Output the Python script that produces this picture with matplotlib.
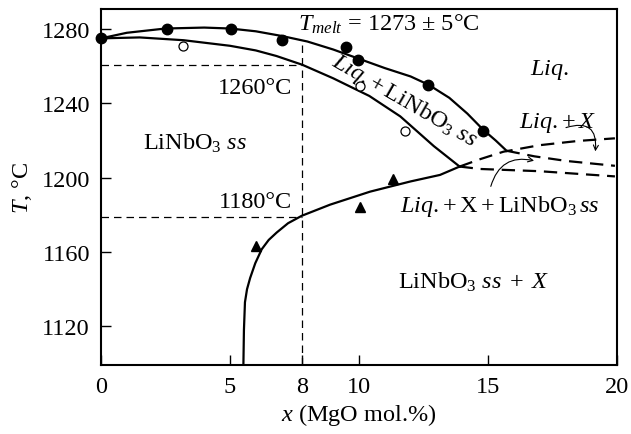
# LiNbO3 - MgO phase diagram
import matplotlib
matplotlib.use('Agg')
import matplotlib.pyplot as plt
from matplotlib.patches import FancyArrowPatch

# Get data
# liquidus
liq_x = [0, 1, 2.5, 4, 5, 6, 7, 8, 9, 10, 11, 12, 12.7, 13.5, 14.2, 14.8, 15.3, 15.72]
liq_T = [1275, 1278, 1280.3, 1280.8, 1280.3, 1278.8, 1276.3, 1273.3, 1269, 1264, 1259, 1254.5, 1250, 1243, 1234.5, 1226, 1220, 1214.5]
# solidus
sol_x = [0, 1.5, 3.2, 5.0, 6.0, 6.8, 7.8, 9.0, 10.4, 11.6, 12.9, 13.9]
sol_T = [1275, 1275.5, 1274, 1271, 1268.5, 1265.5, 1260.8, 1253.5, 1244, 1233, 1217, 1206]
# solvus
solv_x = [5.52, 5.54, 5.58, 5.66, 5.78, 5.98, 6.23, 6.5, 6.81, 7.25, 7.78, 8.88, 10.43, 12.0, 13.14, 13.9]
solv_T = [1100, 1118, 1133, 1140, 1146, 1154, 1161.5, 1166.5, 1170.5, 1175.5, 1179.5, 1185.5, 1192.5, 1198, 1201.5, 1206]
# dashed boundaries
d1_x = [13.9, 14.7, 15.6, 17.0, 18.5, 19.92]
d1_T = [1206, 1210, 1214, 1217.5, 1219.8, 1221.2]
d2_x = [15.72, 16.8, 18.05, 19.92]
d2_T = [1214.5, 1211.5, 1209, 1206.4]
d3_x = [13.9, 14.7, 17.0, 19.92]
d3_T = [1206, 1204.7, 1203.5, 1200.7]

# measured points
fill_x = [0, 2.55, 5.04, 7.0, 9.5, 9.97, 12.69, 14.82]
fill_T = [1275, 1280, 1280, 1274.3, 1270.1, 1263.3, 1249.9, 1225.3]
open_x = [3.19, 10.04, 11.78]
open_T = [1270.7, 1249.2, 1225.3]
tri_x = [6.0, 10.04, 11.33]
tri_T = [1163.4, 1184.0, 1199.3]

x_guide = 7.8
T_guides = [1260.8, 1179]

xticks = [0, 5, x_guide, 10, 15, 20]
xtick_labels = ['0', '5', '8', '10', '15', '20']
yticks = [1120, 1160, 1200, 1240, 1280]

plt.rcParams['font.family'] = ['Liberation Serif', 'DejaVu Serif']
plt.rcParams['mathtext.fontset'] = 'custom'
plt.rcParams['mathtext.rm'] = 'Liberation Serif'
plt.rcParams['mathtext.it'] = 'Liberation Serif:italic'
plt.rcParams['font.size'] = 17.5

fig = plt.figure(figsize=(6.31, 4.35), dpi=100)
ax = fig.add_axes([101/631, 1 - 366/435, 516/631, 356/435])

# guides
for T in T_guides:
    ax.plot([0, x_guide], [T, T], 'k', lw=0.9, dashes=(6, 4))
ax.plot([x_guide, x_guide], [1099, 1272], 'k', lw=0.9, dashes=(6, 4))

# phase lines
ax.plot(liq_x, liq_T, 'k', lw=1.6)
ax.plot(sol_x, sol_T, 'k', lw=1.6)
ax.plot(solv_x, solv_T, 'k', lw=1.6)
for dx, dT in [(d1_x, d1_T), (d2_x, d2_T), (d3_x, d3_T)]:
    ax.plot(dx, dT, 'k', lw=1.6, dashes=(6, 3.5))

ax.plot(fill_x, fill_T, 'ko', ms=7.5, clip_on=False, zorder=5)
ax.plot(open_x, open_T, 'o', mfc='white', mec='k', ms=6.5, mew=0.9, zorder=5)
ax.plot(tri_x, tri_T, 'k^', ms=7.5, zorder=5)

# arrows
ax.add_patch(FancyArrowPatch((17.92, 1226.5), (19.15, 1212.7), arrowstyle='->',
                             mutation_scale=9, lw=0.8, connectionstyle='arc3,rad=-0.8'))
ax.add_patch(FancyArrowPatch((15.08, 1193.9), (16.89, 1208.8), arrowstyle='->',
                             mutation_scale=9, lw=0.8, connectionstyle='arc3,rad=-0.5'))

# labels
ax.text(7.64, 1283, r'$T_{melt}$ = 1273 ± 5°C', va='center', ha='left')
ax.text(16.63, 1258.5, r'$Liq.$', va='center', ha='left')
ax.text(11.75, 1241.5, r'$Liq.\!+\mathrm{LiNbO}_3\ ss$', rotation=-30, rotation_mode='anchor',
        ha='center', va='center')
ax.text(7.39, 1248.5, '1260°C', ha='right', va='center')
ax.text(7.39, 1187.2, '1180°C', ha='right', va='center')
ax.text(1.63, 1215.4, r'LiNbO$_3$ $ss$', ha='left', va='baseline')
ax.text(16.2, 1230.2, r'$Liq.\!+X$', ha='left', va='center')
ax.text(11.6, 1182.2, r'$Liq.\!+\mathrm{X}+\mathrm{LiNbO}_3\,ss$', ha='left', va='baseline')
ax.text(11.5, 1140.6, r'LiNbO$_3$ $ss\;+\;X$', ha='left', va='baseline')

ax.set_xlim(0, 20)
ax.set_ylim(1099.2, 1290.8)
ax.set_xticks(xticks)
ax.set_xticklabels(xtick_labels)
ax.set_yticks(yticks)
ax.tick_params(direction='in', length=7, width=1.0, pad=8)
for s in ax.spines.values():
    s.set_linewidth(1.5)
ax.set_xlabel(r'$x$ (MgO mol.%)', labelpad=3)
ax.set_ylabel(r'$T$, °C', labelpad=5)

fig.savefig('out.png', dpi=100)
